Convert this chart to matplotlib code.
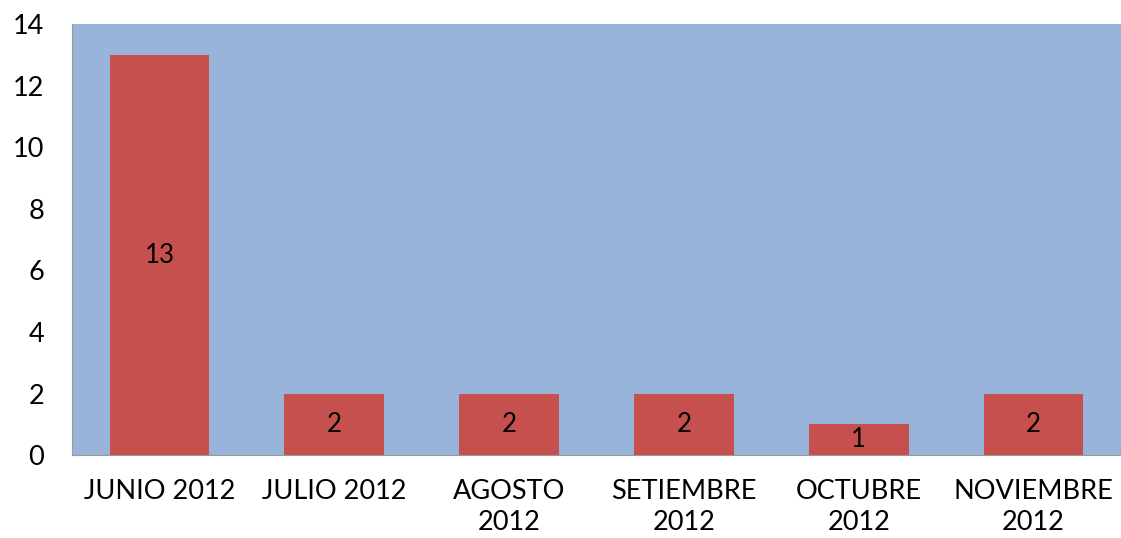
import numpy as np
import matplotlib.pyplot as plt

meses = ["JUNIO 2012", "JULIO 2012", "AGOSTO\n2012", "SETIEMBRE\n2012",
         "OCTUBRE\n2012", "NOVIEMBRE\n2012"]
valores = [13, 2, 2, 2, 1, 2]

plt.rcParams["font.family"] = ["Lato", "DejaVu Sans"]

fig = plt.figure(figsize=(11.21, 5.38), dpi=100)
ax = fig.add_axes([0.0642, 0.154, 0.9358, 0.801])
ax.set_facecolor("#98B4DA")

x = np.arange(len(meses))
bars = ax.bar(x, valores, width=0.57, color="#C5504E", zorder=2)
for b, v in zip(bars, valores):
    ax.text(b.get_x() + b.get_width() / 2, v / 2, str(v),
            ha="center", va="center", fontsize=18.5, color="black", zorder=3)

ax.set_xlim(-0.5, len(meses) - 0.5)
ax.set_ylim(0, 14)
ax.set_yticks(range(0, 15, 2))
ax.set_xticks(x)
ax.set_xticklabels(meses, fontsize=19.5, linespacing=1.32)
ax.tick_params(axis="y", labelsize=19.5, length=0, pad=20)
ax.tick_params(axis="x", length=0, pad=17)
for s in ["top", "right"]:
    ax.spines[s].set_visible(False)
ax.spines["left"].set_color("#9A9A9A")
ax.spines["bottom"].set_color("#9A9A9A")

fig.savefig("out.png", dpi=100)
